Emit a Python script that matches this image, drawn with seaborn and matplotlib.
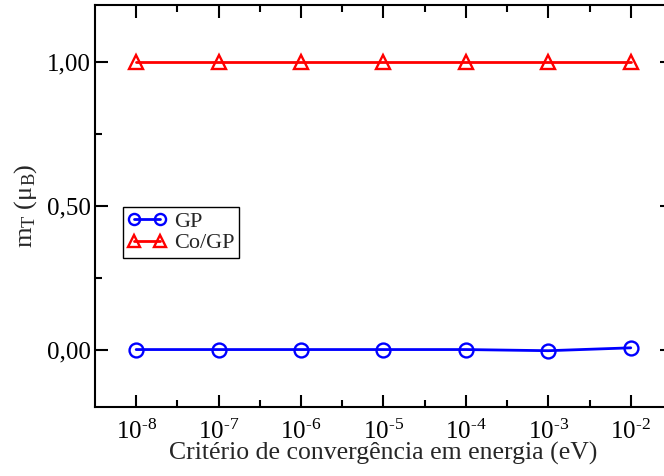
import matplotlib
matplotlib.use("Agg")
import matplotlib.pyplot as plt
import matplotlib.ticker as mticker
import numpy as np
import pandas as pd
import seaborn as sns

# data
criteria = [1e-8, 1e-7, 1e-6, 1e-5, 1e-4, 1e-3, 1e-2]
gp = [0.0, 0.0, 0.0, 0.0, 0.0, -0.004, 0.006]
cogp = [1.0, 1.0, 1.0, 1.0, 1.0, 1.0, 1.0]
series_names = ["GP", "Co/GP"]
yticks = [0.0, 0.5, 1.0]

df = pd.DataFrame({
    "x": criteria * 2,
    "y": gp + cogp,
    "s": [series_names[0]] * len(criteria) + [series_names[1]] * len(criteria),
})

sns.set_theme(style="ticks")
plt.rcParams.update({
    "font.family": ["Liberation Serif", "DejaVu Serif"],
    "mathtext.fontset": "custom",
    "mathtext.rm": "Liberation Serif",
    "mathtext.it": "Liberation Serif:italic",
    "axes.unicode_minus": False,
    "font.size": 17.5,
})

fig = plt.figure(figsize=(6.64, 4.76), dpi=100)
ax = fig.add_axes([0.143, 0.145, 0.869, 0.8445])

palette = {"GP": "#0000ff", "Co/GP": "#ff0000"}
markers = {"GP": "o", "Co/GP": "^"}
sns.lineplot(data=df, x="x", y="y", hue="s", style="s", palette=palette,
             markers=markers, dashes=False, ax=ax, linewidth=2,
             markersize=10, markerfacecolor="none", markeredgewidth=1.7,
             legend=False)
for line, name in zip(ax.lines, series_names):
    line.set_markeredgecolor(palette[name])
    line.set_markerfacecolor("none")

ax.set_xscale("log")
ax.set_xlim(10 ** -8.5, 10 ** -1.5)
ax.set_ylim(-0.2, 1.2)
ax.xaxis.set_major_locator(mticker.FixedLocator(criteria))
ax.xaxis.set_minor_locator(mticker.FixedLocator([10 ** (e + 0.5) for e in range(-8, -2)]))
ax.xaxis.set_major_formatter(mticker.FuncFormatter(
    lambda v, p: r"10$^{\text{-}%d}$" % abs(int(round(np.log10(v))))))
ax.xaxis.set_minor_formatter(mticker.NullFormatter())
ax.yaxis.set_major_locator(mticker.FixedLocator(yticks))
ax.yaxis.set_minor_locator(mticker.FixedLocator([0.25, 0.75]))
ax.yaxis.set_major_formatter(mticker.FuncFormatter(lambda v, p: f"{v:.2f}".replace(".", ",")))

ax.tick_params(which="both", direction="in", top=True, right=True, width=1.5,
               labelsize=18, colors="black")
ax.tick_params(which="major", length=9)
ax.tick_params(which="minor", length=5)
ax.tick_params(axis="x", which="major", pad=9)
ax.tick_params(axis="y", which="major", pad=3)
for sp in ax.spines.values():
    sp.set_linewidth(1.5)
    sp.set_color("black")

ax.set_xlabel("Critério de convergência em energia (eV)", fontsize=18.5, labelpad=-1)
ax.set_ylabel(r"$\mathregular{m_T\ (\mu_B)}$", fontsize=19, labelpad=6)

handles = [
    plt.Line2D([], [], color=palette[n], marker=markers[n], markersize=8,
               markerfacecolor="none", markeredgewidth=1.7, linewidth=2)
    for n in series_names
]
leg = ax.legend(handles, series_names, loc="upper left", bbox_to_anchor=(0.048, 0.498),
                borderaxespad=0, fancybox=False, framealpha=1, edgecolor="black",
                fontsize=16, numpoints=2, handlelength=1.8, handletextpad=0.3,
                borderpad=0.2, labelspacing=0.05)
leg.get_frame().set_linewidth(1.0)

fig.savefig("out.png", dpi=100)
